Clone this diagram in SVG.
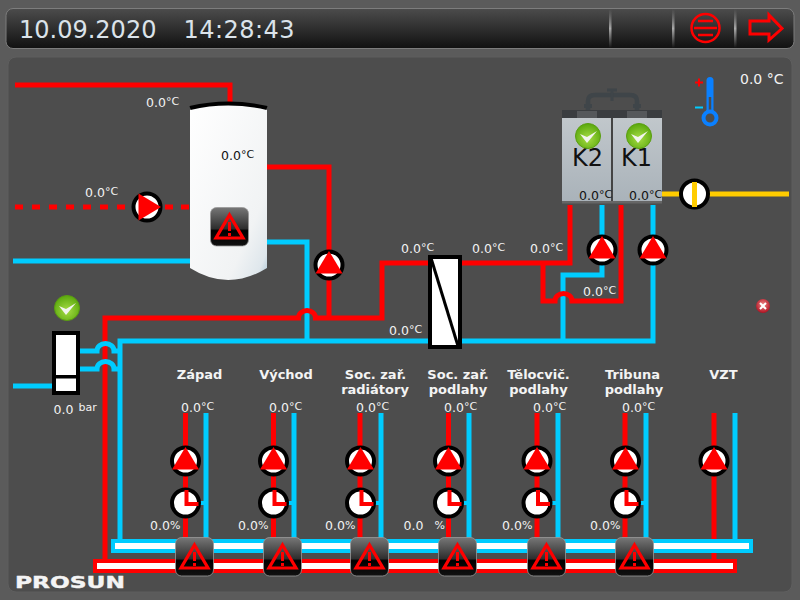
<svg xmlns="http://www.w3.org/2000/svg" width="800" height="600" viewBox="0 0 800 600">
<style>
text{font-family:"DejaVu Sans","Liberation Sans",sans-serif}
.t{font-size:12.5px;fill:#f2f2f2}
.k{font-size:12.5px;fill:#111}
.u{font-size:11px}
.l{font-size:13px;font-weight:bold;fill:#f4f4f4;text-anchor:middle}
.p{fill:none;stroke-width:5;stroke-linejoin:miter}
.r{stroke:#f00}.b{stroke:#0cf}
</style>
<defs>
<linearGradient id="hdr" x1="0" y1="0" x2="0" y2="1"><stop offset="0" stop-color="#4c4c4c"/><stop offset="1" stop-color="#111"/></linearGradient>
<linearGradient id="div" x1="0" y1="0" x2="0" y2="1"><stop offset="0" stop-color="#888" stop-opacity="0"/><stop offset=".5" stop-color="#aaa"/><stop offset="1" stop-color="#888" stop-opacity="0"/></linearGradient>
<linearGradient id="tank" x1="0" y1="0" x2="1" y2="1"><stop offset="0" stop-color="#fff"/><stop offset=".75" stop-color="#f1f3f4"/><stop offset=".92" stop-color="#dfe7ec"/><stop offset="1" stop-color="#a9c4d4"/></linearGradient>
<linearGradient id="boiler" x1="0" y1="0" x2="0" y2="1"><stop offset="0" stop-color="#c3c9cd"/><stop offset="1" stop-color="#a9b2b9"/></linearGradient>
<linearGradient id="warn" x1="0" y1="0" x2="0" y2="1"><stop offset="0" stop-color="#777"/><stop offset=".55" stop-color="#2e2e2e"/><stop offset=".6" stop-color="#000"/><stop offset="1" stop-color="#111"/></linearGradient>
<radialGradient id="ok" cx=".5" cy=".6" r=".6"><stop offset="0" stop-color="#a6dc45"/><stop offset="1" stop-color="#5aa80c"/></radialGradient>
<radialGradient id="err" cx=".5" cy=".4" r=".6"><stop offset="0" stop-color="#e88"/><stop offset="1" stop-color="#b01020"/></radialGradient>
<g id="pump"><circle r="13.500" fill="#fff" stroke="#000" stroke-width="4"/><path d="M0-14 13.500 8.500H-13.500Z" fill="#f00"/></g>
<g id="valve"><circle r="13.500" fill="#fff" stroke="#000" stroke-width="4"/><path d="M1-13V1H13" fill="none" stroke="#f00" stroke-width="4"/></g>
<g id="warning"><rect x=".5" y=".5" width="38" height="38.500" rx="6" fill="url(#warn)" stroke="#999" stroke-width=".8"/><path d="M19.500 8 33 31H6Z" fill="none" stroke="#f00" stroke-width="3.200"/><path d="M19.500 15V24M19.500 26V29" stroke="#f00" stroke-width="3"/></g>
<g id="check"><circle r="12.500" fill="url(#ok)" stroke="#5a9e10"/><path d="M-8-2-1 7 9-5-1 1Z" fill="#f2f4ee"/></g>
</defs>

<rect width="800" height="600" fill="#5b5b5b"/>
<rect x="8" y="57" width="784" height="535" rx="8" fill="#4d4d4d" stroke="#5f5f5f"/>

<g id="header">
<rect x="6" y="8.500" width="788" height="40" rx="7" fill="url(#hdr)" stroke="#7d7d7d"/>
<text x="19" y="38" font-size="24" fill="#dbe3ea">10.09.2020</text>
<text x="183.500" y="38" font-size="24" letter-spacing=".45" fill="#dbe3ea">14:28:43</text>
<rect x="609" y="9" width="2.500" height="39" fill="url(#div)"/>
<rect x="672" y="9" width="2.500" height="39" fill="url(#div)"/>
<rect x="734" y="9" width="2.500" height="39" fill="url(#div)"/>
<g id="menu-button" fill="none" stroke="#f00" stroke-width="2.500"><circle cx="705.500" cy="28" r="14"/><path d="M698 21H713M694 28H717M698 35H713"/></g>
<path id="next-button" d="M750 21H769V15L782 28.500 769 40V34H750Z" fill="none" stroke="#f00" stroke-width="3"/>
</g>

<g id="connectors">
<path class="p r" d="M15 85H230V105"/>
<path class="p r" d="M15 207H132" stroke-dasharray="8 9"/>
<path class="p r" d="M165 207H190" stroke-dasharray="8 8"/>
<path class="p b" d="M13 261H190"/>
<path class="p b" d="M267 242H307V341"/>
<path class="p b" d="M120 540V341H653V205"/>
<path class="p b" d="M563 341V275H602V205"/>
<path class="p r" d="M267 167H329V318"/>
<path class="p r" d="M105 560V318H298.500A8 7 0 0 1 315.500 318H382V263H570V205"/>
<path class="p r" d="M543 263V301H555A8 7 0 0 1 572 301H621V205"/>
<path class="p b" d="M13 386H52"/>
<path class="p b" d="M80 351H97A8 7 0 0 1 114 351H120"/>
<path class="p b" d="M80 369H97A8 7 0 0 1 114 369H120"/>
<path d="M662 194H789" class="p" stroke="#fc0"/>
<g class="p r"><path d="M185.500 413V540M273.500 413V540M360 413V540M448.500 413V540M537 413V540M625 413V540M714 413V559"/></g>
<g class="p b"><path d="M206 413V540M294 413V540M381 413V540M469 413V540M558 413V540M646 413V540M735 413V540"/></g>
<g class="b" stroke-width="4"><path d="M200 503H206M288 503H294M375 503H381M463 503H469M552 503H558M640 503H646"/></g>
<rect x="113" y="541" width="638" height="10" fill="#fff" stroke="#0cf" stroke-width="4"/>
<rect x="95" y="561" width="640" height="10" fill="#fff" stroke="#f00" stroke-width="4"/>
</g>

<g id="tank-node">
<path d="M190 108Q228 99 267 108V268Q228 292 190 268Z" fill="url(#tank)"/>
<path d="M190 108Q228 99 267 108" fill="none" stroke="#000" stroke-width="4"/>
</g>

<g id="exchanger"><rect x="430" y="257" width="30" height="90" fill="#fff" stroke="#000" stroke-width="4"/><path d="M431 258 458 346" stroke="#000" stroke-width="3"/></g>

<g id="boilers">
<path d="M588 110V101Q588 95 595 95H630Q637 95 637 101V110" fill="none" stroke="#3f4549" stroke-width="4.500"/>
<path d="M612 89V101M607 90H617" stroke="#3f4549" stroke-width="3"/>
<path d="M584 106H592M633 106H641" stroke="#3f4549" stroke-width="4"/>
<rect x="562" y="110" width="100" height="93" fill="url(#boiler)"/>
<rect x="562" y="110" width="100" height="8" fill="#3a3d40"/>
<rect x="577" y="111" width="20" height="7" fill="#55585b"/><rect x="627" y="111" width="20" height="7" fill="#55585b"/>
<rect x="611" y="118" width="2" height="85" fill="#444"/>
<rect x="562" y="201" width="100" height="2.500" fill="#666"/>
<text x="587.500" y="166" font-size="24" fill="#111" text-anchor="middle">K2</text>
<text x="636.500" y="166" font-size="24" fill="#111" text-anchor="middle">K1</text>
<use href="#check" x="588" y="136"/>
<use href="#check" x="639" y="136"/>
</g>

<g id="pump-1"><use href="#pump" transform="translate(147 207) rotate(90)"/></g>
<g id="pump-2"><use href="#pump" x="329" y="265"/></g>
<g id="pump-k2"><use href="#pump" x="602" y="250"/></g>
<g id="pump-k1"><use href="#pump" x="653" y="250"/></g>
<g id="fan"><circle cx="694.500" cy="194" r="13.500" fill="#fff" stroke="#000" stroke-width="4"/><path d="M694.500 182V207" stroke="#fc0" stroke-width="5"/></g>

<g id="thermometer">
<path d="M710 80.500V112" stroke="#0a80ff" stroke-width="7" stroke-linecap="round"/>
<path d="M710 97V113" stroke="#4d4d4d" stroke-width="2.500"/>
<circle cx="710" cy="118" r="6.500" fill="#4d4d4d" stroke="#0a80ff" stroke-width="4"/>
<path d="M695 82.500H703M699 78.500V86.500" stroke="#f00" stroke-width="2"/>
<path d="M695 107.500H703" stroke="#0cf" stroke-width="2"/>
</g>

<g id="expansion-vessel">
<rect x="54" y="333" width="24" height="60" fill="#fff" stroke="#000" stroke-width="4"/>
<rect x="54" y="375" width="24" height="3.500" fill="#000"/>
<use href="#check" x="67" y="308"/>
</g>

<g id="alarm"><circle cx="763" cy="306" r="7" fill="url(#err)"/><path d="M760 303 766 309M766 303 760 309" stroke="#fff" stroke-width="2"/></g>

<g id="circuits">
<use href="#pump" x="185.500" y="461"/><use href="#pump" x="273.500" y="461"/><use href="#pump" x="360.500" y="461"/><use href="#pump" x="448.500" y="461"/><use href="#pump" x="537" y="461"/><use href="#pump" x="625.500" y="461"/><use href="#pump" x="714" y="461"/>
<use href="#valve" x="185.500" y="503"/><use href="#valve" x="273.500" y="503"/><use href="#valve" x="360.500" y="503"/><use href="#valve" x="448.500" y="503"/><use href="#valve" x="537" y="503"/><use href="#valve" x="625.500" y="503"/>
<use href="#warning" x="175" y="537"/><use href="#warning" x="263" y="537"/><use href="#warning" x="350" y="537"/><use href="#warning" x="438" y="537"/><use href="#warning" x="527" y="537"/><use href="#warning" x="615" y="537"/>
</g>
<use id="tank-warning" href="#warning" x="210" y="207"/>

<g id="labels">
<text class="t" x="146" y="107">0.0<tspan class="u" dy="-2">°C</tspan></text>
<text class="k" x="221" y="160">0.0<tspan class="u" dy="-2">°C</tspan></text>
<text class="t" x="85" y="197">0.0<tspan class="u" dy="-2">°C</tspan></text>
<text x="740" y="84" font-size="14" fill="#f2f2f2">0.0 <tspan font-size="14">°C</tspan></text>
<text class="t" x="401" y="253">0.0<tspan class="u" dy="-2">°C</tspan></text>
<text class="t" x="472" y="253">0.0<tspan class="u" dy="-2">°C</tspan></text>
<text class="t" x="530" y="253">0.0<tspan class="u" dy="-2">°C</tspan></text>
<text class="k" x="579" y="200">0.0<tspan class="u" dy="-2">°C</tspan></text>
<text class="k" x="629" y="200">0.0<tspan class="u" dy="-2">°C</tspan></text>
<text class="t" x="583" y="296">0.0<tspan class="u" dy="-2">°C</tspan></text>
<text class="t" x="389" y="335">0.0<tspan class="u" dy="-2">°C</tspan></text>
<text class="t" x="53.500" y="414">0.0</text><text class="u" x="78.500" y="411" fill="#f2f2f2">bar</text>
<text class="l" x="199.500" y="379">Západ</text>
<text class="l" x="286" y="379">Východ</text>
<text class="l" x="375.500" y="379">Soc. zař.</text><text class="l" x="375" y="394">radiátory</text>
<text class="l" x="458" y="379">Soc. zař.</text><text class="l" x="458" y="394">podlahy</text>
<text class="l" x="538.500" y="379">Tělocvič.</text><text class="l" x="538.500" y="394">podlahy</text>
<text class="l" x="632.500" y="379">Tribuna</text><text class="l" x="634" y="394">podlahy</text>
<text class="l" x="723.500" y="379">VZT</text>
<text class="t" x="181" y="412">0.0<tspan class="u" dy="-2">°C</tspan></text>
<text class="t" x="269" y="412">0.0<tspan class="u" dy="-2">°C</tspan></text>
<text class="t" x="356" y="412">0.0<tspan class="u" dy="-2">°C</tspan></text>
<text class="t" x="444" y="412">0.0<tspan class="u" dy="-2">°C</tspan></text>
<text class="t" x="533" y="412">0.0<tspan class="u" dy="-2">°C</tspan></text>
<text class="t" x="622" y="412">0.0<tspan class="u" dy="-2">°C</tspan></text>
<text class="t" x="150" y="530">0.0<tspan class="u" dy="-1">%</tspan></text>
<text class="t" x="238" y="530">0.0<tspan class="u" dy="-1">%</tspan></text>
<text class="t" x="325" y="530">0.0<tspan class="u" dy="-1">%</tspan></text>
<text class="t" x="403.500" y="530">0.0</text><text class="u" x="434.500" y="529" fill="#f2f2f2">%</text>
<text class="t" x="502" y="530">0.0<tspan class="u" dy="-1">%</tspan></text>
<text class="t" x="590" y="530">0.0<tspan class="u" dy="-1">%</tspan></text>
<text x="15" y="588" font-size="16" font-weight="bold" fill="#f4f4f4" stroke="#f4f4f4" stroke-width=".4" textLength="110" lengthAdjust="spacingAndGlyphs">PROSUN</text>
</g>
</svg>
